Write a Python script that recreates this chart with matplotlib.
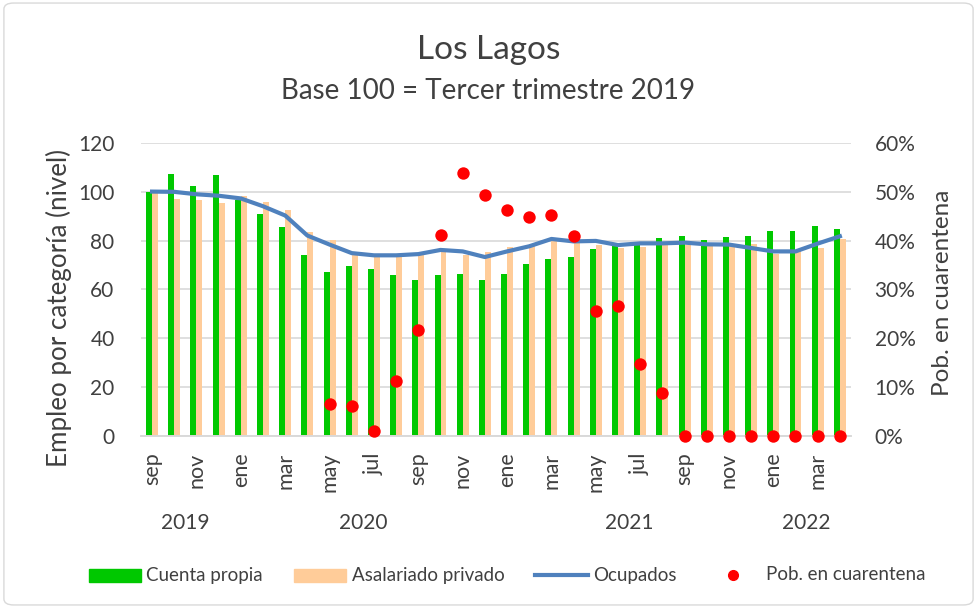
import matplotlib
matplotlib.use("Agg")
import matplotlib.pyplot as plt
from matplotlib.patches import FancyBboxPatch, Rectangle
from matplotlib.lines import Line2D
from matplotlib.ticker import FuncFormatter
import numpy as np

plt.rcParams['font.family'] = ['Lato', 'DejaVu Sans']

# Data: sep 2019 .. abr 2022 (monthly, rolling quarters)
months = ['sep', 'oct', 'nov', 'dic', 'ene', 'feb', 'mar', 'abr', 'may', 'jun', 'jul', 'ago',
          'sep', 'oct', 'nov', 'dic', 'ene', 'feb', 'mar', 'abr', 'may', 'jun', 'jul', 'ago',
          'sep', 'oct', 'nov', 'dic', 'ene', 'feb', 'mar', 'abr']
years = ['2019', '2020', '2021', '2022']
year_span = [(0, 3), (4, 15), (16, 27), (28, 31)]

cuenta_propia = [100.0, 107.4, 102.3, 106.7, 96.8, 91.0, 85.6, 74.0, 67.3, 69.6, 68.5, 66.0,
                 64.0, 65.9, 66.2, 64.0, 66.3, 70.4, 72.3, 73.4, 76.7, 78.3, 78.8, 81.1,
                 82.1, 80.3, 81.4, 81.9, 84.1, 84.0, 86.2, 84.9]
asalariado = [99.6, 97.1, 96.8, 95.6, 98.4, 96.0, 92.7, 83.7, 80.3, 74.2, 73.6, 73.6,
              74.2, 76.0, 74.2, 75.5, 77.4, 78.8, 81.1, 79.0, 78.4, 77.0, 77.4, 78.4,
              78.4, 77.7, 77.7, 78.6, 74.5, 75.6, 77.0, 80.8]
ocupados = [100.1, 100.0, 99.0, 98.4, 97.3, 94.1, 90.3, 82.1, 78.4, 74.9, 74.0, 74.0,
            74.5, 76.2, 75.6, 73.3, 75.6, 77.7, 80.7, 79.7, 79.9, 78.2, 78.9, 78.9,
            79.2, 78.5, 78.4, 77.0, 75.6, 75.6, 78.8, 81.8]
cuarentena = [np.nan] * 8 + [0.065, 0.061, 0.010, 0.112, 0.218, 0.411, 0.538, 0.494,
                             0.463, 0.448, 0.452, 0.409, 0.255, 0.266, 0.147, 0.088,
                             0, 0, 0, 0, 0, 0, 0, 0]

GREEN = '#00c800'
PEACH = '#ffcc99'
BLUE = '#4f81bd'
RED = '#ff0000'
TXT = '#404040'

x = np.arange(len(months))

fig = plt.figure(figsize=(9.77, 6.08), dpi=100)
ax = fig.add_axes([0.1443, 0.2829, 0.7267, 0.4819])
ax2 = ax.twinx()

w = 0.27
ax.bar(x - w / 2, cuenta_propia, width=w, color=GREEN, zorder=2)
ax.bar(x + w / 2, asalariado, width=w, color=PEACH, zorder=2)
ax.plot(x, ocupados, color=BLUE, lw=3, zorder=3)
ax2.scatter(x, cuarentena, s=80, color=RED, zorder=4, clip_on=False, linewidths=0)

ax.set_xlim(-0.5, len(months) - 0.5)
ax.set_ylim(0, 120)
ax.set_yticks(np.arange(0, 121, 20))
ax2.set_ylim(0, 0.6)
ax2.set_yticks(np.arange(0, 0.61, 0.1))
ax2.yaxis.set_major_formatter(FuncFormatter(lambda v, p: '{:.0f}%'.format(v * 100)))

ax.grid(axis='y', color='#d9d9d9', lw=1.2, zorder=0)
ax.set_axisbelow(True)
for a in (ax, ax2):
    for s in ['top', 'left', 'right']:
        a.spines[s].set_visible(False)
    a.spines['bottom'].set_color('#d9d9d9')
    a.spines['bottom'].set_linewidth(1.2)
    a.tick_params(length=0, labelsize=15, colors=TXT)
ax.tick_params(axis='y', pad=19)
ax2.tick_params(axis='y', pad=17)

ax.set_xticks(x[::2])
ax.set_xticklabels(months[::2], rotation=90, fontsize=15.5)
ax.tick_params(axis='x', pad=12)

for yr, (a, b) in zip(years, year_span):
    ax.text((a + b) / 2, -0.297, yr, transform=ax.get_xaxis_transform(),
            ha='center', va='center', fontsize=15, color=TXT)

ax.set_ylabel('Empleo por categoría (nivel)', fontsize=18.7, color=TXT)
ax.yaxis.set_label_coords(-0.097, 0.437)
ax2.set_ylabel('Pob. en cuarentena', fontsize=17.5, color=TXT)
ax2.yaxis.set_label_coords(1.114, 0.488)

fig.text(0.5, 1 - 50 / 608, 'Los Lagos', ha='center', va='center', fontsize=24, color=TXT)
fig.text(0.5, 1 - 91 / 608, 'Base 100 = Tercer trimestre 2019', ha='center', va='center',
         fontsize=20, color=TXT)

# legend drawn in figure pixels
W, H = 977.0, 608.0
ly = 1 - 575 / H
ph = 13 / H
fig.add_artist(Rectangle((89 / W, ly - ph / 2), 52 / W, ph, transform=fig.transFigure, color=GREEN))
fig.text(146 / W, ly, 'Cuenta propia', ha='left', va='center', fontsize=13.5, color=TXT)
fig.add_artist(Rectangle((294 / W, ly - ph / 2), 52 / W, ph, transform=fig.transFigure, color=PEACH))
fig.text(352 / W, ly, 'Asalariado privado', ha='left', va='center', fontsize=13.5, color=TXT)
fig.add_artist(Line2D([535 / W, 588 / W], [ly, ly], transform=fig.transFigure, color=BLUE, lw=3))
fig.text(593 / W, ly, 'Ocupados', ha='left', va='center', fontsize=13.5, color=TXT)
fig.add_artist(Line2D([733 / W], [ly], transform=fig.transFigure, color=RED, marker='o',
                      markersize=7, ls='none'))
fig.text(766 / W, ly, 'Pob. en cuarentena', ha='left', va='center', fontsize=13.5, color=TXT)

fig.patches.append(FancyBboxPatch((0.004, 0.005), 0.992, 0.99, boxstyle='round,pad=0,rounding_size=0.01',
                                  transform=fig.transFigure, fill=False, ec='#d9d9d9', lw=1))

fig.savefig('out.png', dpi=100)
